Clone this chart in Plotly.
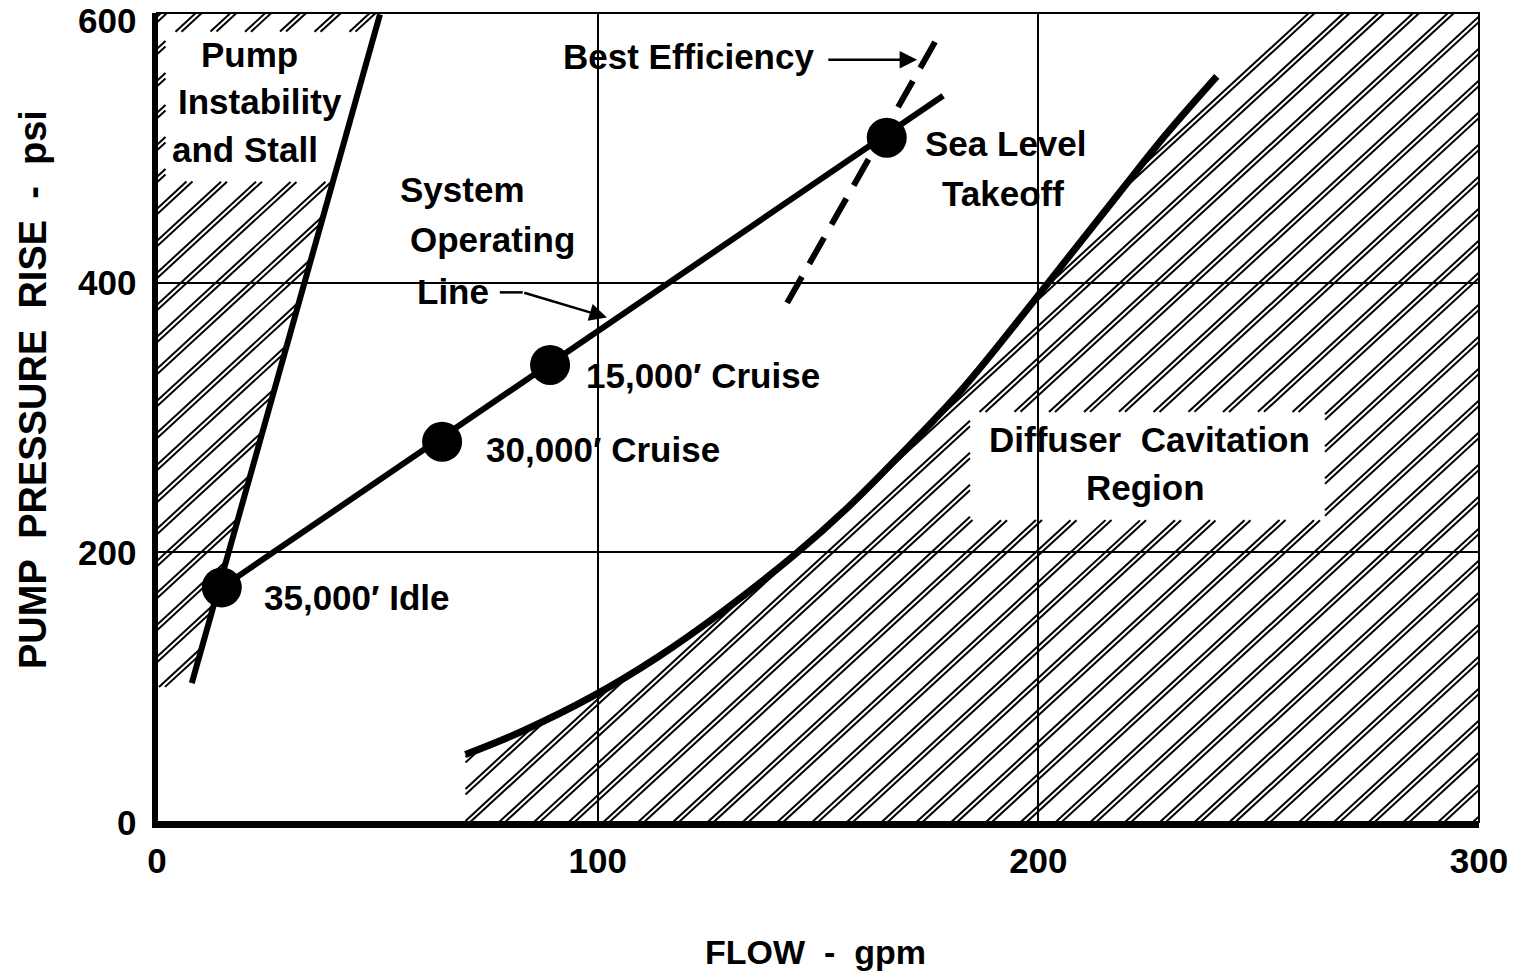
import numpy as np
import plotly.graph_objects as go

# ---- data (flow in gpm, pressure rise in psi) ----
point_names = ["35,000′ Idle", "30,000′ Cruise", "15,000′ Cruise", "Sea Level Takeoff"]
point_flow = [14.7, 64.7, 89.2, 165.6]
point_psi = [174, 282, 339, 507.5]

# system operating line
op_flow = [14.7, 178.4]
op_psi = [174, 538.6]

# pump instability / stall boundary
stall_flow = [7.9, 50.6]
stall_psi = [103, 599]

# best efficiency line
beff_flow = [143.0, 178.1]
beff_psi = [385, 587.5]

# diffuser cavitation boundary
cav_flow = [70, 83, 99, 113.5, 128.5, 145, 157, 168, 183, 202.5, 218, 229, 240.5]
cav_psi = [50, 67.5, 93.5, 122, 156.5, 199, 234, 270, 322, 401, 465, 510, 553]

x_ticks = [0, 100, 200, 300]
y_ticks = [0, 200, 400, 600]
X_MAX, Y_MAX = 300, 600

# label boxes left clear of hatching (flow0, flow1, psi0, psi1)
pump_box = (2, 70, 475, 586)
diff_box = (184.5, 265, 224, 304)
stall_floor = 100

# ---- layout geometry ----
FIG_W, FIG_H = 1520, 975
M_L, M_R, M_T, M_B = 157, 41, 13, 153
PW, PH = FIG_W - M_L - M_R, FIG_H - M_T - M_B
HATCH_SLOPE = 0.92          # screen-space slope of the hatch lines
HATCH_PITCH = 32.0          # vertical pixels between line pairs
HATCH_GAP = 5.5             # vertical pixels between the two lines of a pair


def in_box(x, y, b):
    return (x >= b[0]) & (x <= b[1]) & (y >= b[2]) & (y <= b[3])


def cav_boundary(x):
    # past the end of the curve the hatched area is bounded by a hatch-parallel edge
    y = np.interp(x, cav_flow, cav_psi)
    ext_slope = HATCH_SLOPE * (PW / X_MAX) / (PH / Y_MAX)
    beyond = x > cav_flow[-1]
    y[beyond] = cav_psi[-1] + ext_slope * (x[beyond] - cav_flow[-1])
    return y


def stall_boundary(y):
    return stall_flow[0] + (y - stall_psi[0]) * (stall_flow[1] - stall_flow[0]) / (stall_psi[1] - stall_psi[0])


def diffuser_region(x, y):
    return ((x >= cav_flow[0]) & (x <= X_MAX) & (y >= 0) & (y <= Y_MAX)
            & (y <= cav_boundary(x)) & ~in_box(x, y, diff_box))


def stall_region(x, y):
    return ((x >= 0) & (x <= stall_boundary(y)) & (y >= stall_floor) & (y <= Y_MAX)
            & ~in_box(x, y, pump_box))


def hatch(inside, pitch=HATCH_PITCH, gap=HATCH_GAP, slope=HATCH_SLOPE):
    """Paired diagonal hatch lines (in screen pixels) clipped to a region."""
    xs, ys = [], []
    u = np.arange(0, PW + 0.25, 0.5)
    for c0 in np.arange(-slope * PW, PH + pitch, pitch):
        for c in (c0, c0 + gap):
            w = slope * u + c
            x = u / PW * X_MAX
            y = w / PH * Y_MAX
            m = inside(x, y)
            if not m.any():
                continue
            d = np.diff(m.astype(int))
            starts = list(np.where(d == 1)[0] + 1)
            ends = list(np.where(d == -1)[0])
            if m[0]:
                starts.insert(0, 0)
            if m[-1]:
                ends.append(len(m) - 1)
            for s, e in zip(starts, ends):
                xs += [x[s], x[e], None]
                ys += [y[s], y[e], None]
    return xs, ys


fig = go.Figure()

for region in (diffuser_region, stall_region):
    hx, hy = hatch(region)
    fig.add_trace(go.Scatter(x=hx, y=hy, mode="lines", line=dict(color="black", width=2),
                             hoverinfo="skip", showlegend=False))

fig.add_trace(go.Scatter(x=stall_flow, y=stall_psi, mode="lines",
                         line=dict(color="black", width=6), showlegend=False))
fig.add_trace(go.Scatter(x=cav_flow, y=cav_psi, mode="lines",
                         line=dict(color="black", width=7, shape="spline", smoothing=1.0),
                         showlegend=False))
fig.add_trace(go.Scatter(x=beff_flow, y=beff_psi, mode="lines",
                         line=dict(color="black", width=6, dash="30px,15px"), showlegend=False))
fig.add_trace(go.Scatter(x=op_flow, y=op_psi, mode="lines",
                         line=dict(color="black", width=6), showlegend=False))
fig.add_trace(go.Scatter(x=point_flow, y=point_psi, mode="markers",
                         marker=dict(color="black", size=40), text=point_names,
                         hoverinfo="text", showlegend=False))

FAMILY = "Liberation Sans, Arial, sans-serif"
FONT = dict(family=FAMILY, size=35, color="black", weight="bold")


def label(text, x, y, xanchor="center", xshift=0, yshift=0, **kw):
    fig.add_annotation(text=text, x=x, y=y, xref="x", yref="y", showarrow=False,
                       xanchor=xanchor, yanchor="middle", xshift=xshift, yshift=yshift,
                       font=FONT, **kw)


# region captions
label("Pump", 21.1, 569.5)
label("Instability", 23.4, 534)
label("and Stall", 20.0, 499)
label("System", 69.4, 469)
label("Operating", 76.2, 432)
label("Line", 67.2, 393.5)
label("Best Efficiency", 120.5, 568)
label("Diffuser  Cavitation", 225.3, 283.7)
label("Region", 224.4, 248)

# operating point captions
label(point_names[0], point_flow[0], point_psi[0], xanchor="left", xshift=40, yshift=-10)
label(point_names[1], point_flow[1], point_psi[1], xanchor="left", xshift=42, yshift=-8)
label(point_names[2], point_flow[2], point_psi[2], xanchor="left", xshift=34, yshift=-11)
label("Sea Level", point_flow[3], point_psi[3], xanchor="left", xshift=36, yshift=-6)
label("Takeoff", point_flow[3], point_psi[3], xanchor="left", xshift=53, yshift=-56)

# pointer arrows
fig.add_annotation(x=172.5, y=565.3, ax=152.0, ay=565.3, xref="x", yref="y", axref="x", ayref="y",
                   text="", showarrow=True, arrowhead=2, arrowsize=1.4, arrowwidth=2.5,
                   arrowcolor="black")
fig.add_annotation(x=102.1, y=374.2, ax=83.0, ay=392.8, xref="x", yref="y", axref="x", ayref="y",
                   text="", showarrow=True, arrowhead=2, arrowsize=1.4, arrowwidth=2.5,
                   arrowcolor="black")
fig.add_shape(type="line", x0=77.8, x1=83.0, y0=392.8, y1=392.8, xref="x", yref="y",
              line=dict(color="black", width=2.5))

# thin frame on top / right
fig.add_shape(type="rect", xref="x domain", yref="y domain", x0=0, x1=1, y0=0, y1=1,
              line=dict(color="black", width=2), layer="below")

# y tick labels (the top one is nudged down so it stays on the page)
TICKFONT = dict(family=FAMILY, size=35, color="black", weight="bold")
for v in y_ticks:
    fig.add_annotation(text=str(v), x=0, y=v, xref="paper", yref="y", showarrow=False,
                       xanchor="right", yanchor="middle", xshift=-19,
                       yshift=-7 if v == Y_MAX else 0, font=TICKFONT)

# axis titles
fig.add_annotation(text="PUMP  PRESSURE  RISE  -  psi", xref="paper", yref="paper",
                   x=(33 - M_L) / PW, y=(822 - 390) / PH, textangle=-90, showarrow=False,
                   xanchor="center", yanchor="middle",
                   font=dict(family=FAMILY, size=38, color="black", weight="bold"))
fig.add_annotation(text="FLOW  -  gpm", xref="paper", yref="paper",
                   x=(815 - M_L) / PW, y=(822 - 952) / PH, showarrow=False,
                   xanchor="center", yanchor="middle",
                   font=dict(family=FAMILY, size=34, color="black", weight="bold"))

fig.update_xaxes(range=[0, X_MAX], tickvals=x_ticks, showgrid=True, gridcolor="black", gridwidth=1.5,
                 zeroline=False, showline=True, linecolor="black", linewidth=6, ticks="",
                 tickfont=TICKFONT, ticklabelstandoff=3, ticklabeloverflow="allow",
                 automargin=False)
fig.update_yaxes(range=[0, Y_MAX], tickvals=y_ticks, showgrid=True, gridcolor="black", gridwidth=1.5,
                 zeroline=False, showline=True, linecolor="black", linewidth=5, ticks="",
                 showticklabels=False, automargin=False)
fig.update_layout(width=FIG_W, height=FIG_H, margin=dict(l=M_L, r=M_R, t=M_T, b=M_B, autoexpand=False),
                  plot_bgcolor="white", paper_bgcolor="white", showlegend=False)

fig.write_html("out.html")
